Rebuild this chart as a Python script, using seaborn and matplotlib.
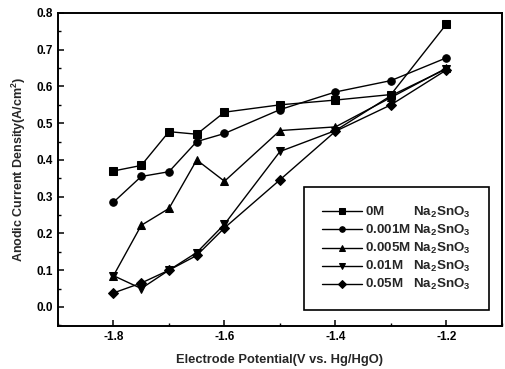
import numpy as np
import pandas as pd
import matplotlib
matplotlib.use("Agg")
import matplotlib.pyplot as plt
from matplotlib.ticker import MultipleLocator
import seaborn as sns

# Electrode potential (V vs. Hg/HgO)
potential = [-1.8, -1.75, -1.7, -1.65, -1.6, -1.5, -1.4, -1.3, -1.2]

# Anodic current density (A/cm^2) for each stannate concentration
conc_labels = ["0M", "0.001M", "0.005M", "0.01M", "0.05M"]
j_0M = [0.370, 0.385, 0.477, 0.470, 0.530, 0.550, 0.563, 0.578, 0.770]
j_0001M = [0.285, 0.355, 0.368, 0.450, 0.472, 0.537, 0.585, 0.616, 0.678]
j_0005M = [0.085, 0.222, 0.268, 0.400, 0.342, 0.480, 0.490, 0.570, 0.650]
j_001M = [0.085, 0.050, 0.100, 0.148, 0.225, 0.423, 0.480, 0.575, 0.648]
j_005M = [0.038, 0.065, 0.100, 0.140, 0.215, 0.346, 0.478, 0.550, 0.645]
series = [j_0M, j_0001M, j_0005M, j_001M, j_005M]

# spaces pad the shorter concentrations so the salt names line up
legend_text = {
    "0M": "0M        Na$_2$SnO$_3$",
    "0.001M": "0.001M Na$_2$SnO$_3$",
    "0.005M": "0.005M Na$_2$SnO$_3$",
    "0.01M": "0.01M   Na$_2$SnO$_3$",
    "0.05M": "0.05M   Na$_2$SnO$_3$",
}

rows = []
for lab, vals in zip(conc_labels, series):
    for x, y in zip(potential, vals):
        rows.append({"E": x, "J": y, "conc": legend_text[lab]})
df = pd.DataFrame(rows)

sns.set_theme(style="ticks")
plt.rcParams["font.family"] = ["Liberation Sans", "DejaVu Sans"]
plt.rcParams["font.weight"] = "bold"
plt.rcParams["mathtext.fontset"] = "custom"
plt.rcParams["mathtext.rm"] = "Liberation Sans:bold"
plt.rcParams["mathtext.it"] = "Liberation Sans:bold"

fig = plt.figure(figsize=(5.06, 3.69), dpi=100)
ax = fig.add_axes([0.1146, 0.1165, 0.8774, 0.8483])

order = [legend_text[l] for l in conc_labels]
markers = dict(zip(order, ["s", "o", "^", "v", "D"]))
sns.lineplot(
    data=df, x="E", y="J", hue="conc", style="conc",
    hue_order=order, style_order=order,
    palette=["black"] * 5, markers=markers, dashes=False,
    markersize=5.4, linewidth=1.0, markeredgecolor="black",
    ax=ax,
)

ax.set_xlim(-1.9, -1.1)
ax.set_ylim(-0.052, 0.8)
ax.xaxis.set_minor_locator(MultipleLocator(0.1))
ax.yaxis.set_minor_locator(MultipleLocator(0.05))
ax.set_xticks([-1.8, -1.6, -1.4, -1.2])
ax.set_xticklabels(["-1.8", "-1.6", "-1.4", "-1.2"])
ax.set_yticks(np.arange(0, 0.81, 0.1))
ax.set_yticklabels([f"{v:.1f}" for v in np.arange(0, 0.81, 0.1)])

ax.tick_params(which="both", direction="in", top=False, right=False,
               colors="black", labelsize=8.5)
ax.tick_params(which="major", length=4, width=1.1)
ax.tick_params(which="minor", length=2.5, width=1.0)
for s in ax.spines.values():
    s.set_linewidth(1.4)
    s.set_color("black")

ax.set_xlabel("Electrode Potential(V vs. Hg/HgO)", fontsize=9.3, fontweight="bold", labelpad=8)
ax.set_ylabel("Anodic Current Density(A/cm$^2$)", fontsize=9, fontweight="bold", labelpad=6)

leg = ax.legend(loc="lower right", bbox_to_anchor=(0.97, 0.05),
                borderaxespad=0, fontsize=9.6, frameon=True, fancybox=False,
                framealpha=1, edgecolor="black", handlelength=3.0,
                handletextpad=0.2, labelspacing=0.22, borderpad=1.35)
leg.get_frame().set_linewidth(1.2)
for h in leg.legend_handles:
    h.set_markersize(4.0)
    h.set_linewidth(1.0)

fig.savefig("out.png", dpi=100)
